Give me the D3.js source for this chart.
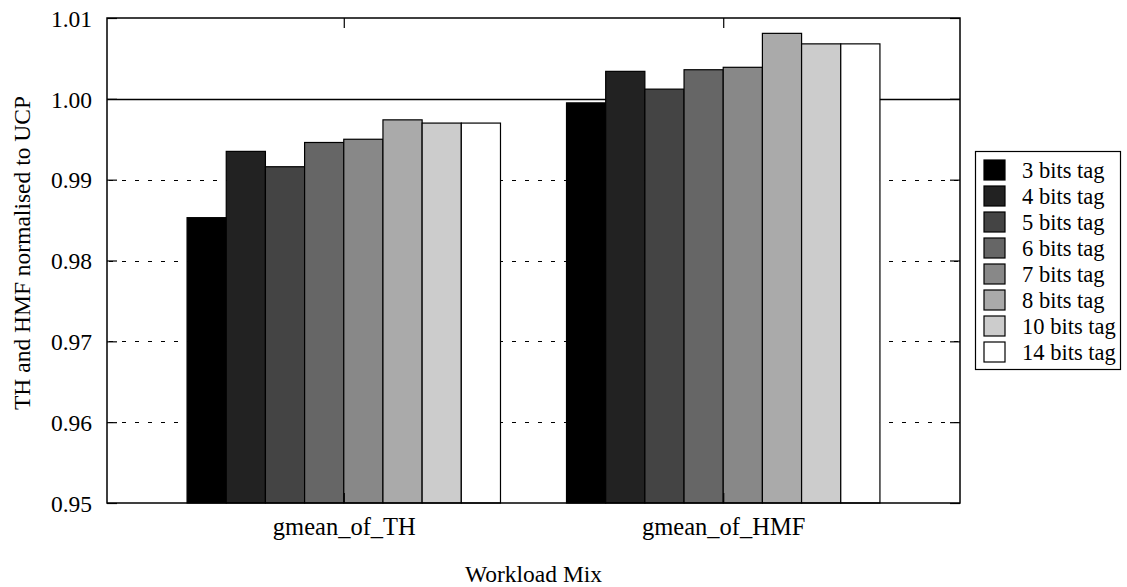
<!DOCTYPE html>
<html>
<head>
<meta charset="utf-8">
<script src="https://cdn.jsdelivr.net/npm/d3@7"></script>
<style>
  html, body { margin: 0; padding: 0; background: #fff; }
  svg { display: block; }
  svg text { font-family: "Liberation Serif", "Times New Roman", Tinos, Times, "Nimbus Roman", "DejaVu Serif", serif !important; fill: #000; }
</style>
</head>
<body>
<svg id="chart" width="1127" height="587"></svg>
<script>
const categories = ["gmean_of_TH", "gmean_of_HMF"];
const seriesNames = ["3 bits tag", "4 bits tag", "5 bits tag", "6 bits tag", "7 bits tag", "8 bits tag", "10 bits tag", "14 bits tag"];
const seriesColors = ["#000000", "#222222", "#444444", "#666666", "#888888", "#aaaaaa", "#cccccc", "#ffffff"];
const valuesTH  = [0.9853, 0.9935, 0.9916, 0.9946, 0.9950, 0.9974, 0.9970, 0.9970];
const valuesHMF = [0.9995, 1.0034, 1.0012, 1.0036, 1.0039, 1.0081, 1.0068, 1.0068];
const yTicks = [0.95, 0.96, 0.97, 0.98, 0.99, 1.00, 1.01];
const yTitle = "TH and HMF normalised to UCP";
const xTitle = "Workload Mix";

const values = [valuesTH, valuesHMF];
const data = [];
categories.forEach((c, ci) => seriesNames.forEach((s, si) => data.push({cat: c, ci, series: s, si, value: values[ci][si]})));

const svg = d3.select("#chart");
const L = 107, R = 960, T = 18, B = 503;

const y = d3.scaleLinear().domain([0.95, 1.01]).range([B, T]);
const x = d3.scaleLinear().domain([-0.624, 1.624]).range([L, R]);
const groupW = 0.826;
const inner = d3.scaleBand().domain(seriesNames).range([-groupW / 2, groupW / 2]);
const color = d3.scaleOrdinal().domain(seriesNames).range(seriesColors);

// grid lines (dashed)
svg.append("g").selectAll("line")
  .data(yTicks.filter(t => t > 0.95 && t < 1.0))
  .join("line")
  .attr("x1", L).attr("x2", R)
  .attr("y1", d => Math.round(y(d)) + 0.5).attr("y2", d => Math.round(y(d)) + 0.5)
  .attr("stroke", "#000").attr("stroke-width", 1)
  .attr("stroke-dasharray", "4,9").attr("stroke-dashoffset", -2);

// solid reference line at 1.00
svg.append("line")
  .attr("x1", L).attr("x2", R)
  .attr("y1", Math.round(y(1.0)) + 0.5).attr("y2", Math.round(y(1.0)) + 0.5)
  .attr("stroke", "#000").attr("stroke-width", 1.3);

// bars
svg.append("g").selectAll("rect")
  .data(data)
  .join("rect")
  .attr("x", d => x(d.ci + inner(d.series)))
  .attr("width", d => x(inner.bandwidth()) - x(0))
  .attr("y", d => y(d.value))
  .attr("height", d => y(0.95) - y(d.value))
  .attr("fill", d => color(d.series))
  .attr("stroke", "#000").attr("stroke-width", 1.2);

// axes (ticks inward, mirrored)
const yAxisL = d3.axisLeft(y).tickValues(yTicks).tickFormat(d3.format(".2f")).tickSizeInner(-10).tickSizeOuter(0).tickPadding(15);
const gL = svg.append("g").attr("transform", `translate(${L},0)`).call(yAxisL);
const yAxisR = d3.axisRight(y).tickValues(yTicks).tickFormat("").tickSizeInner(-10).tickSizeOuter(0);
const gR = svg.append("g").attr("transform", `translate(${R},0)`).call(yAxisR);
const xAxisB = d3.axisBottom(x).tickValues([0, 1]).tickFormat(i => categories[i]).tickSizeInner(-10).tickSizeOuter(0).tickPadding(15);
const gB = svg.append("g").attr("transform", `translate(0,${B})`).call(xAxisB);
const xAxisT = d3.axisTop(x).tickValues([0, 1]).tickFormat("").tickSizeInner(-10).tickSizeOuter(0);
const gT = svg.append("g").attr("transform", `translate(0,${T})`).call(xAxisT);
[gL, gR, gB, gT].forEach(g => {
  g.attr("font-family", null);
  g.select(".domain").remove();
  g.selectAll("line").attr("stroke", "#000").attr("stroke-width", 1.2);
  g.selectAll("text").attr("font-size", 23.5).attr("fill", "#000");
});
gB.selectAll("text").attr("font-size", 24.5);
gL.selectAll("text").attr("dy", "0.35em");

// frame
svg.append("rect")
  .attr("x", L).attr("y", T).attr("width", R - L).attr("height", B - T)
  .attr("fill", "none").attr("stroke", "#000").attr("stroke-width", 1.5);

// axis titles
svg.append("text")
  .attr("transform", `translate(30,253) rotate(-90)`)
  .attr("text-anchor", "middle").attr("font-size", 23.5)
  .text(yTitle);
svg.append("text")
  .attr("x", (L + R) / 2).attr("y", 582)
  .attr("text-anchor", "middle").attr("font-size", 23.5)
  .text(xTitle);

// legend
const lg = svg.append("g");
lg.append("rect")
  .attr("x", 975.5).attr("y", 151.5).attr("width", 145).attr("height", 218)
  .attr("fill", "#fff").attr("stroke", "#000").attr("stroke-width", 1.2);
const item = lg.selectAll("g.item").data(seriesNames).join("g").attr("class", "item")
  .attr("transform", (d, i) => `translate(984,${160 + i * 26})`);
item.append("rect")
  .attr("width", 21).attr("height", 20)
  .attr("fill", d => color(d)).attr("stroke", "#000").attr("stroke-width", 1.2);
item.append("text")
  .attr("x", 38).attr("y", 10).attr("dy", "0.35em")
  .attr("font-size", 22.5)
  .text(d => d);
</script>
</body>
</html>
